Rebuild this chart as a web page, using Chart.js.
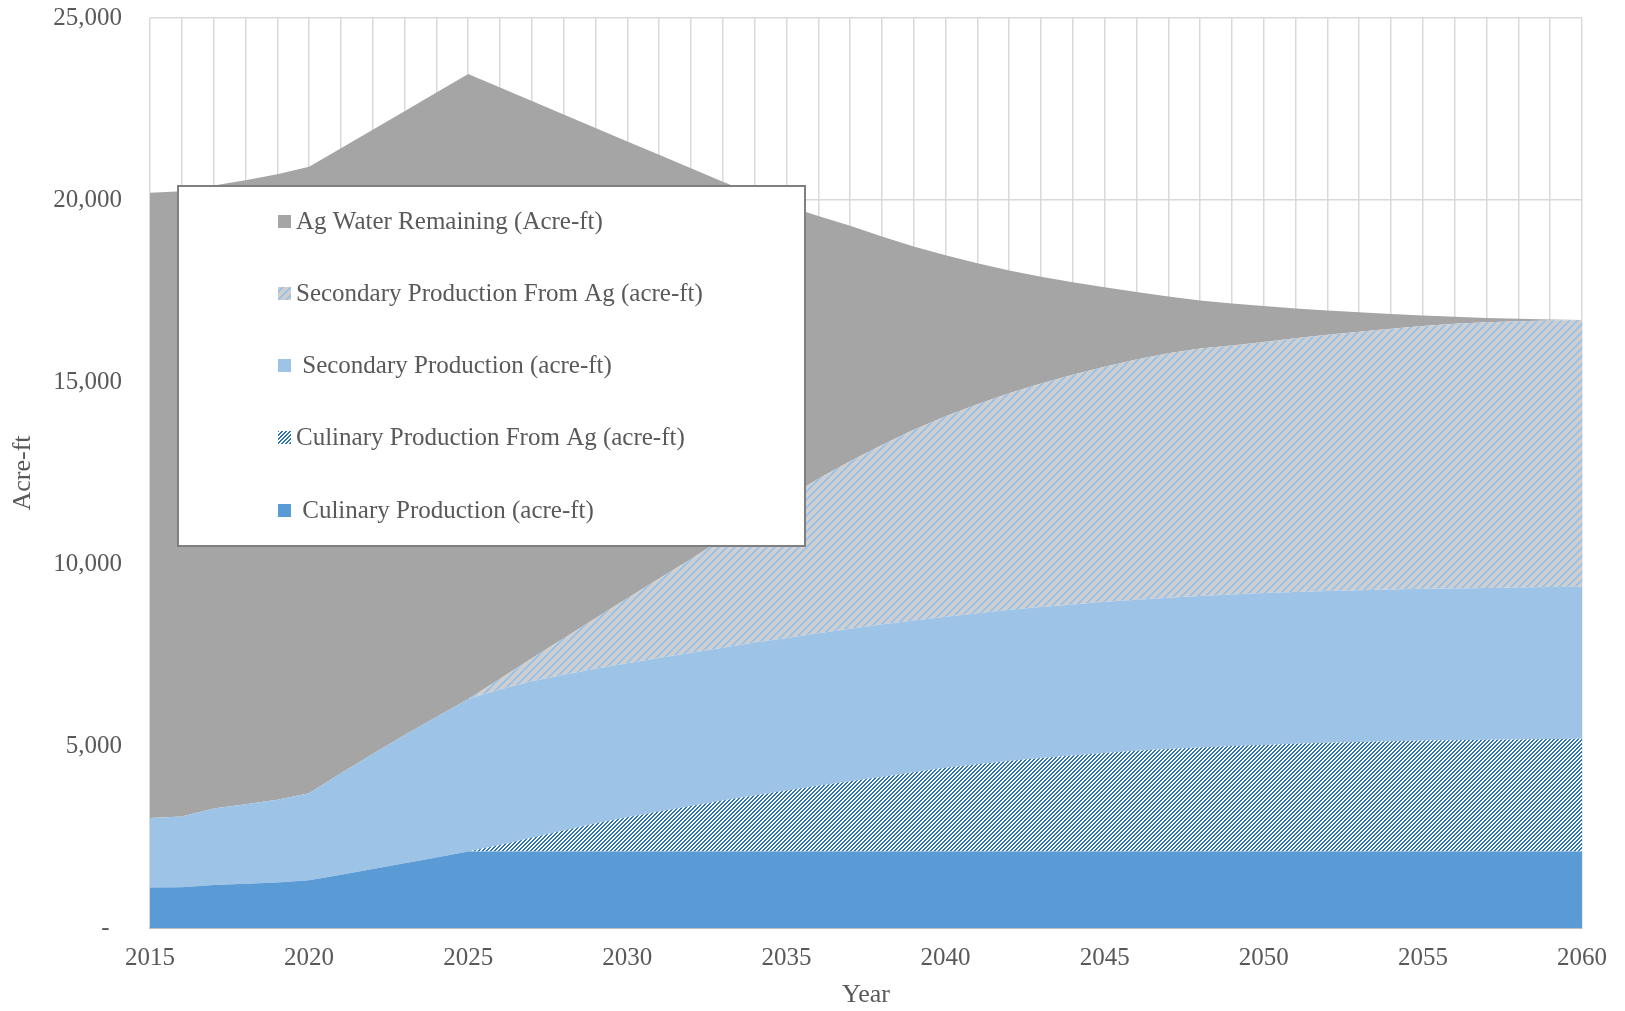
<!DOCTYPE html>
<html>
<head>
<meta charset="utf-8">
<script src="https://cdn.jsdelivr.net/npm/chart.js@4.4.1/dist/chart.umd.min.js"></script>
<style>
  body { margin: 0; background: #fff; }
  #wrap { width: 1625px; height: 1011px; }
</style>
</head>
<body>
<div id="wrap"><canvas id="chart" width="1625" height="1011"></canvas></div>
<script>
const years = [];
for (let y = 2015; y <= 2060; y++) years.push(y);

const yTicks = [0, 5000, 10000, 15000, 20000, 25000];

// acre-ft per year, bottom of the stack first
const culinary = [1110, 1120, 1180, 1215, 1250, 1310, 1460, 1620, 1780, 1940,
  2100, 2100, 2100, 2100, 2100, 2100, 2100, 2100, 2100, 2100,
  2100, 2100, 2100, 2100, 2100, 2100, 2100, 2100, 2100, 2100,
  2100, 2100, 2100, 2100, 2100, 2100, 2100, 2100, 2100, 2100,
  2100, 2100, 2100, 2100, 2100, 2100];
const culinaryFromAg = [0, 0, 0, 0, 0, 0, 0, 0, 0, 0,
  0, 180, 380, 580, 770, 940, 1100, 1250, 1400, 1540,
  1680, 1810, 1930, 2050, 2180, 2300, 2400, 2490, 2570, 2640,
  2710, 2770, 2820, 2860, 2900, 2930, 2960, 2990, 3010, 3030,
  3050, 3060, 3070, 3080, 3090, 3100];
const secondary = [1910, 1940, 2100, 2185, 2270, 2390, 2790, 3160, 3520, 3860,
  4190, 4270, 4300, 4280, 4250, 4230, 4220, 4210, 4200, 4200,
  4190, 4190, 4190, 4190, 4170, 4150, 4150, 4150, 4150, 4150,
  4150, 4150, 4150, 4160, 4160, 4170, 4170, 4170, 4170, 4170,
  4170, 4170, 4170, 4175, 4175, 4175];
const secondaryFromAg = [0, 0, 0, 0, 0, 0, 0, 0, 0, 0,
  0, 300, 630, 1000, 1390, 1790, 2180, 2580, 3000, 3420,
  3830, 4240, 4600, 4930, 5240, 5510, 5740, 5950, 6140, 6310,
  6460, 6600, 6720, 6800, 6840, 6900, 6970, 7040, 7100, 7160,
  7220, 7270, 7300, 7315, 7325, 7325];
const agRemaining = [17180, 17180, 17120, 17140, 17190, 17215, 17170, 17150, 17140, 17150,
  17170, 16240, 15310, 14390, 13470, 12550, 11640, 10730, 9800, 8890,
  8050, 7220, 6470, 5730, 5030, 4420, 3870, 3370, 2930, 2540,
  2180, 1850, 1560, 1320, 1160, 990, 820, 665, 535, 410,
  290, 195, 120, 65, 25, 0];

const FONT = "'Liberation Serif', 'Times New Roman', serif";
const TEXT = "#595959";

// upward diagonal hatch tile
function hatch(bg, fg, size, width) {
  const c = document.createElement("canvas");
  c.width = c.height = size;
  const g = c.getContext("2d");
  g.fillStyle = bg;
  g.fillRect(0, 0, size, size);
  g.fillStyle = fg;
  for (let y = 0; y < size; y++) {
    for (let x = 0; x < size; x++) {
      if ((x + y) % size < width) g.fillRect(x, y, 1, 1);
    }
  }
  return g.createPattern(c, "repeat");
}

const culAgPattern = hatch("#ffffff", "#2E75B6", 4, 2);
const secAgPattern = hatch("#D0CECE", "#9DC3E6", 8, 3);

function area(label, data, fill, color, legendY) {
  return {
    label: label,
    data: data,
    backgroundColor: color,
    borderWidth: 0,
    pointRadius: 0,
    tension: 0,
    fill: fill,
    legendY: legendY,
  };
}

const datasets = [
  area(" Culinary Production (acre-ft)", culinary, "origin", "#5B9BD5", 511),
  area("Culinary Production From Ag (acre-ft)", culinaryFromAg, "-1", culAgPattern, 438),
  area(" Secondary Production (acre-ft)", secondary, "-1", "#9DC3E6", 366),
  area("Secondary Production From Ag (acre-ft)", secondaryFromAg, "-1", secAgPattern, 294),
  area("Ag Water Remaining (Acre-ft)", agRemaining, "-1", "#A5A5A5", 222),
];

// boxed legend sitting over the plot
const boxLegend = {
  id: "boxLegend",
  afterDraw(chart) {
    const ctx = chart.ctx;
    ctx.save();
    ctx.fillStyle = "#ffffff";
    ctx.fillRect(178, 186, 627, 360);
    ctx.strokeStyle = "#7F7F7F";
    ctx.lineWidth = 2;
    ctx.strokeRect(178, 186, 627, 360);
    ctx.font = "25px " + FONT;
    ctx.textBaseline = "middle";
    ctx.textAlign = "left";
    chart.data.datasets.forEach((ds) => {
      ctx.fillStyle = ds.backgroundColor;
      ctx.fillRect(278, ds.legendY - 7, 13, 13);
      ctx.fillStyle = TEXT;
      ctx.fillText(ds.label, 296, ds.legendY);
    });
    ctx.restore();
  },
};

new Chart(document.getElementById("chart"), {
  type: "line",
  data: { labels: years, datasets: datasets },
  plugins: [boxLegend],
  options: {
    responsive: false,
    animation: false,
    layout: { padding: { top: 18, right: 43, bottom: 0, left: 0 } },
    plugins: {
      legend: { display: false },
      tooltip: { enabled: false },
    },
    scales: {
      x: {
        offset: false,
        afterFit: (s) => { s.height = 83; },
        grid: { color: "#D9D9D9", lineWidth: 1.5, drawTicks: false },
        border: { display: true, color: "#BFBFBF", width: 2 },
        ticks: {
          autoSkip: false,
          maxRotation: 0,
          padding: 15,
          color: TEXT,
          font: { family: FONT, size: 25 },
          callback: (v, i) => (years[i] % 5 === 0 ? String(years[i]) : ""),
        },
        title: {
          display: true,
          text: "Year",
          color: TEXT,
          font: { family: FONT, size: 26 },
          padding: { top: 0, bottom: 0 },
        },
      },
      y: {
        stacked: true,
        min: yTicks[0],
        max: yTicks[yTicks.length - 1],
        afterFit: (s) => {
          s.width = 150;
          s.paddingTop = 10;
          s.paddingBottom = 10;
        },
        afterBuildTicks: (s) => { s.ticks = yTicks.map((v) => ({ value: v })); },
        grid: { color: "#D9D9D9", lineWidth: 1.5, drawTicks: false },
        border: { display: false },
        ticks: {
          padding: 28,
          color: TEXT,
          font: { family: FONT, size: 25 },
          callback: (v) => (v === 0 ? "-  " : v.toLocaleString("en-US")),
        },
        title: {
          display: true,
          text: "Acre-ft",
          color: TEXT,
          font: { family: FONT, size: 26 },
          padding: { top: 8, bottom: 0 },
        },
      },
    },
  },
});
</script>
</body>
</html>
